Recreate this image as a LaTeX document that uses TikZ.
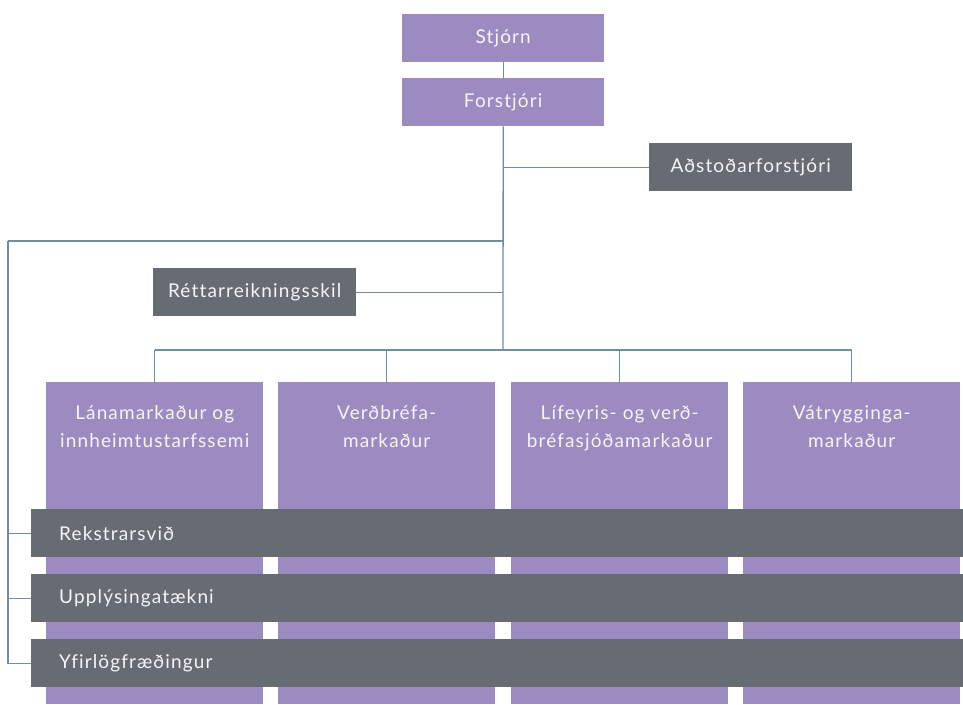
\documentclass[tikz,border=0pt]{standalone}
\usepackage{fontspec}
\setmainfont{Lato}[LetterSpace=6, Ligatures={NoCommon}]
\definecolor{purp}{RGB}{155,139,193}
\definecolor{gbar}{RGB}{103,107,114}
\definecolor{lnc}{RGB}{112,142,160}
\definecolor{txt}{RGB}{245,245,250}
\begin{document}
\begin{tikzpicture}[x=1pt,y=-1pt,
  every node/.style={font=\fontsize{19}{28}\selectfont, text=txt, inner sep=0pt},
  pbox/.style={fill=purp, anchor=north west},
  gbox/.style={fill=gbar, anchor=north west},
  conn/.style={draw=lnc, line width=1.3pt}]
\useasboundingbox (0,0) rectangle (963,704);
% top boxes
\node[pbox, minimum width=202pt, minimum height=48pt] (stjorn) at (402,14) {Stjórn};
\node[pbox, minimum width=202pt, minimum height=48pt] (forst) at (402,78) {Forstjóri};
\node[gbox, minimum width=203pt, minimum height=48pt] (adst) at (649,143) {Aðstoðarforstjóri};
\node[gbox, minimum width=203pt, minimum height=48pt] (rett) at (153,268) {Réttarreikningsskil};
\coordinate (jtop) at (503,350);
\coordinate (lefttop) at (8,241);
% connectors
\draw[conn] (stjorn.south) -- (forst.north);
\draw[conn] (forst.south) -- (jtop);
\draw[conn] (adst.west) -- (adst.west -| forst.south);
\draw[conn] (rett.east) -- (rett.east -| forst.south);
\draw[conn] (lefttop -| forst.south) -- (lefttop);
% tall boxes
\node[pbox, minimum width=217pt, minimum height=322pt] (b1) at (46,382) {};
\node[pbox, minimum width=217pt, minimum height=322pt] (b2) at (278,382) {};
\node[pbox, minimum width=217pt, minimum height=322pt] (b3) at (511,382) {};
\node[pbox, minimum width=217pt, minimum height=322pt] (b4) at (743,382) {};
\tikzset{tlabel/.style={anchor=north, align=center, yshift=-23pt}}
\node[tlabel] (t1) at (b1.north) {Lánamarkaður og\\innheimtustarfssemi};
\node[tlabel] (t2) at (b2.north) {Verðbréfa-\\markaður};
\node[tlabel] (t3) at (b3.north) {Lífeyris- og verð-\\bréfasjóðamarkaður};
\node[tlabel] (t4) at (b4.north) {Vátrygginga-\\markaður};
\draw[conn] (b1.north |- jtop) -- (b4.north |- jtop);
\draw[conn] (b1.north |- jtop) -- (b1.north);
\draw[conn] (b2.north |- jtop) -- (b2.north);
\draw[conn] (b3.north |- jtop) -- (b3.north);
\draw[conn] (b4.north |- jtop) -- (b4.north);
% gray bars
\tikzset{bar/.style={gbox, minimum height=48pt, inner xsep=28pt, text width=876pt, align=left}}
\node[bar] (rek) at (31,509) {Rekstrarsvið};
\node[bar] (upp) at (31,574) {Upplýsingatækni};
\node[bar] (yfir) at (31,639) {Yfirlögfræðingur};
\draw[conn] (lefttop) -- (lefttop |- yfir.west) -- (yfir.west);
\draw[conn] (lefttop |- rek.west) -- (rek.west);
\draw[conn] (lefttop |- upp.west) -- (upp.west);
\end{tikzpicture}
\end{document}
